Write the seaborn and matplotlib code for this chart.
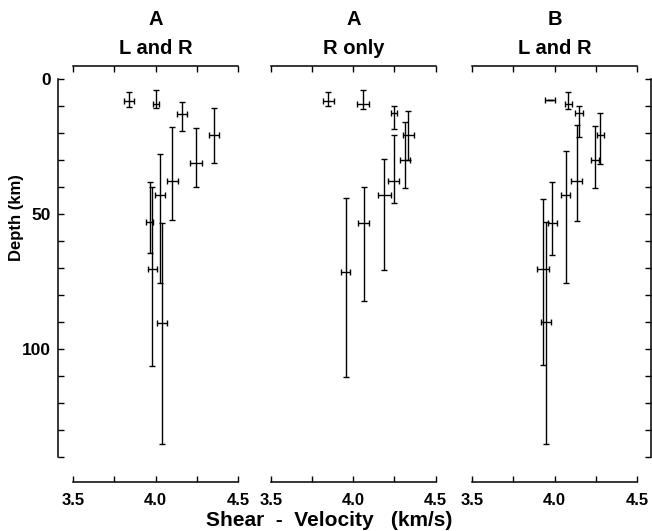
import matplotlib
matplotlib.use("Agg")
import matplotlib.pyplot as plt
from matplotlib.ticker import MultipleLocator, FuncFormatter
import seaborn as sns

# panel 1: model A, Love and Rayleigh
vel_a_lr = [3.838, 4.003, 4.159, 4.355, 4.245, 4.102, 4.027, 4.039, 3.965, 3.981]
depth_a_lr = [8.3, 9.3, 13.0, 20.9, 31.0, 37.8, 42.9, 90.5, 53.1, 70.5]
verr_a_lr = [0.03, 0.02, 0.032, 0.03, 0.035, 0.035, 0.031, 0.028, 0.021, 0.03]
dtop_a_lr = [4.9, 4.1, 8.4, 10.9, 18.3, 17.7, 27.9, 53.4, 38.0, 40.0]
dbot_a_lr = [10.3, 10.7, 19.3, 31.0, 40.0, 52.2, 75.4, 135.3, 64.6, 106.2]

# panel 2: model A, Rayleigh only
vel_a_r = [3.848, 4.059, 4.246, 4.246, 4.335, 4.314, 4.189, 4.063, 3.955]
depth_a_r = [8.1, 9.4, 12.7, 37.8, 20.7, 30.0, 43.0, 53.2, 71.4]
verr_a_r = [0.034, 0.034, 0.018, 0.034, 0.033, 0.03, 0.038, 0.035, 0.028]
dtop_a_r = [4.9, 4.1, 9.9, 20.7, 11.9, 15.8, 29.6, 39.9, 44.0]
dbot_a_r = [10.0, 11.2, 18.5, 46.0, 30.0, 40.4, 70.7, 82.2, 110.4]

# panel 3: model B, Love and Rayleigh
vel_b_lr = [3.974, 4.084, 4.149, 4.134, 4.277, 4.246, 4.067, 3.987, 3.931, 3.948]
depth_b_lr = [7.9, 9.1, 12.7, 37.9, 20.9, 30.0, 42.9, 53.2, 70.5, 89.9]
verr_b_lr = [0.031, 0.023, 0.026, 0.034, 0.022, 0.026, 0.027, 0.03, 0.037, 0.03]
dtop_b_lr = [7.9, 4.9, 9.9, 17.0, 12.5, 17.4, 26.7, 38.3, 44.5, 53.0]
dbot_b_lr = [7.9, 11.2, 21.6, 52.5, 31.6, 40.3, 75.4, 65.2, 106.0, 135.2]

titles = ["A\nL and R", "A\nR only", "B\nL and R"]
x_ticks = [3.5, 3.75, 4.0, 4.25, 4.5]


def draw_panel(ax, vel, depth, verr, dtop, dbot, title):
    yerr = [[d - t for d, t in zip(depth, dtop)], [b - d for d, b in zip(depth, dbot)]]
    ax.errorbar(vel, depth, xerr=verr, yerr=yerr, fmt="none", ecolor="black",
                elinewidth=1.0, capsize=2.2, capthick=1.0)

    ax.set_xlim(3.5, 4.5)
    ax.set_ylim(140, -4.8)
    ax.set_xticks(x_ticks)
    ax.xaxis.set_major_formatter(FuncFormatter(lambda v, p: f"{v:.1f}" if abs(v * 2 - round(v * 2)) < 1e-6 else ""))
    ax.tick_params(axis="x", top=True, bottom=True, direction="in", length=4, width=1.0,
                   labelsize=12, pad=8, colors="black")

    ax.spines["bottom"].set_position(("outward", 18))
    ax.spines["bottom"].set_bounds(3.5, 4.5)
    for s in ["top", "bottom", "left", "right"]:
        ax.spines[s].set_linewidth(1.1)
        ax.spines[s].set_color("black")
    ax.spines["left"].set_visible(False)
    ax.spines["right"].set_visible(False)
    ax.tick_params(axis="y", left=False, right=False, labelleft=False)
    ax.set_title(title, fontsize=14.5, fontweight="bold", linespacing=1.65, pad=9, color="black")


def style_depth_axis(ax, side):
    ax.spines[side].set_visible(True)
    ax.spines[side].set_position(("outward", 11 if side == "left" else 10))
    ax.spines[side].set_bounds(0, 140)
    ax.yaxis.set_major_locator(MultipleLocator(10))
    ax.yaxis.set_major_formatter(FuncFormatter(lambda v, p: f"{int(v)}" if int(round(v)) % 50 == 0 else ""))
    if side == "left":
        ax.tick_params(axis="y", left=True, labelleft=True, direction="in", length=4,
                       width=1.0, labelsize=12.5, pad=5, colors="black")
    else:
        ax.tick_params(axis="y", right=True, labelright=False, direction="in", length=4,
                       width=1.0, colors="black")


def main():
    sns.set_theme(style="ticks")
    plt.rcParams["font.family"] = ["Liberation Sans", "DejaVu Sans"]
    plt.rcParams["font.weight"] = "bold"
    plt.rcParams["text.color"] = "black"

    fig = plt.figure(figsize=(6.52, 5.31), dpi=100)
    lefts = [0.1124, 0.4156, 0.7244]
    axes = [fig.add_axes([l, 0.1394, 0.2525, 0.7363]) for l in lefts]

    draw_panel(axes[0], vel_a_lr, depth_a_lr, verr_a_lr, dtop_a_lr, dbot_a_lr, titles[0])
    draw_panel(axes[1], vel_a_r, depth_a_r, verr_a_r, dtop_a_r, dbot_a_r, titles[1])
    draw_panel(axes[2], vel_b_lr, depth_b_lr, verr_b_lr, dtop_b_lr, dbot_b_lr, titles[2])

    style_depth_axis(axes[0], "left")
    style_depth_axis(axes[2], "right")

    fig.text(17 / 652, 1 - 218 / 531, "Depth (km)", rotation=90, ha="center", va="center",
             fontsize=12, fontweight="bold", color="black")
    fig.text(0.505, 0.002, "Shear  -  Velocity   (km/s)", ha="center", va="bottom",
             fontsize=15, fontweight="bold", color="black")

    fig.savefig("out.png", dpi=100, facecolor="white")


if __name__ == "__main__":
    main()
